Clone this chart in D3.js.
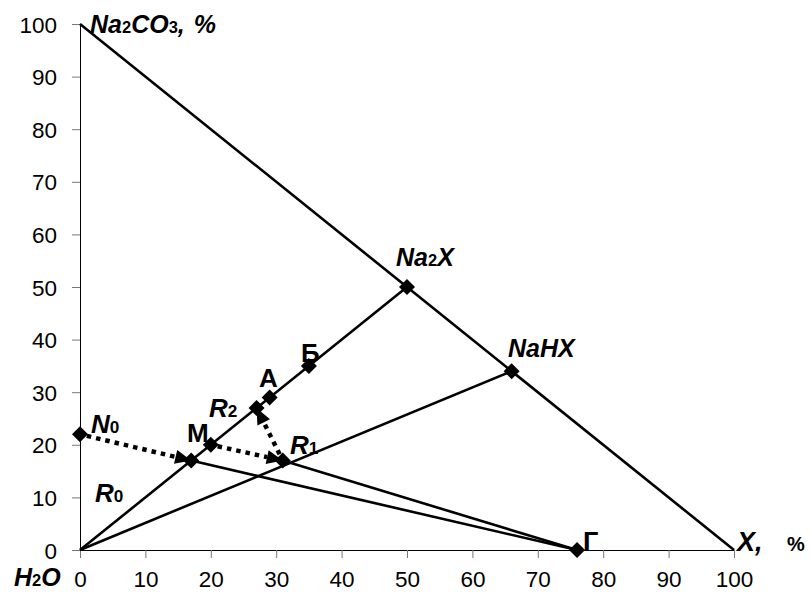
<!DOCTYPE html>
<html>
<head>
<meta charset="utf-8">
<script src="https://cdn.jsdelivr.net/npm/d3@7"></script>
<style>
  body { margin: 0; background: #fff; }
  svg text { font-family: "Liberation Sans", Arial, sans-serif; fill: #000; }
</style>
</head>
<body>
<div class="chart"></div>
<script>
// size of the picture
const width = 811;
const height = 592;

// points of the diagram (x = X %, y = Na2CO3 %)
const pointIds = ["O", "C", "E", "N0", "R0", "M", "R2", "A", "B", "R1", "Na2X", "NaHX", "G"];
const pointX   = [0,   0,   100, 0,    17,   20,  27,   29,  35,  31,   50,     66,     76];
const pointY   = [0,   100, 0,   22,   17,   20,  27,   29,  35,  17,   50,     34,     0];

// which points get a diamond
const markerIds = ["N0", "R0", "M", "R2", "A", "B", "R1", "Na2X", "NaHX", "G"];

// solid lines and dotted arrows, as pairs of point ids
const solidSegments = [["C", "E"], ["O", "Na2X"], ["O", "NaHX"], ["R0", "G"], ["R1", "G"]];
const arrowSegments = [["N0", "R0"], ["M", "R1"], ["R1", "R2"]];

// tick labels
const xTicks = [0, 10, 20, 30, 40, 50, 60, 70, 80, 90, 100];
const yTicks = [0, 10, 20, 30, 40, 50, 60, 70, 80, 90, 100];

var pts = {};
pointIds.forEach(function(id, i) { pts[id] = {x: pointX[i], y: pointY[i]}; });

var x = d3.scaleLinear().domain([0, 100]).range([80, 734]);
var y = d3.scaleLinear().domain([0, 100]).range([550, 24]);

var svg = d3.select(".chart")
  .append("svg")
    .attr("width", width)
    .attr("height", height);

// axes
var xAxis = svg.append("g")
  .attr("transform", "translate(0," + y(0) + ")")
  .call(d3.axisBottom(x).tickValues(xTicks).tickSize(8).tickSizeOuter(0).tickPadding(13));

var yAxis = svg.append("g")
  .attr("transform", "translate(" + x(0) + ",0)")
  .call(d3.axisLeft(y).tickValues(yTicks).tickSize(8).tickSizeOuter(0).tickPadding(15));

[xAxis, yAxis].forEach(function(a) {
  a.select(".domain").attr("stroke", "#000").attr("stroke-width", 1);
  a.selectAll(".tick line").attr("stroke", "#777").attr("stroke-width", 1);
  a.selectAll(".tick text")
    .style("font-size", "22.5px")
    .attr("fill", "#000");
});
yAxis.selectAll(".tick text").attr("dy", "0.36em");

// solid lines
svg.append("g")
  .selectAll("line")
  .data(solidSegments)
  .enter()
  .append("line")
    .attr("x1", function(d) { return x(pts[d[0]].x); })
    .attr("y1", function(d) { return y(pts[d[0]].y); })
    .attr("x2", function(d) { return x(pts[d[1]].x); })
    .attr("y2", function(d) { return y(pts[d[1]].y); })
    .attr("stroke", "#000")
    .attr("stroke-width", 2.6);

// dotted arrows: line stops at arrow base, head is a filled triangle
var headLen = 16, headHalf = 7;
var arrows = svg.append("g");
arrowSegments.forEach(function(d) {
  var x1 = x(pts[d[0]].x), y1 = y(pts[d[0]].y);
  var x2 = x(pts[d[1]].x), y2 = y(pts[d[1]].y);
  var dx = x2 - x1, dy = y2 - y1;
  var len = Math.sqrt(dx * dx + dy * dy);
  var ux = dx / len, uy = dy / len;
  var bx = x2 - ux * headLen, by = y2 - uy * headLen;
  arrows.append("line")
    .attr("x1", x1 + ux * 7).attr("y1", y1 + uy * 7)
    .attr("x2", bx).attr("y2", by)
    .attr("stroke", "#000")
    .attr("stroke-width", 4.5)
    .attr("stroke-dasharray", "4.5,5");
  arrows.append("path")
    .attr("d", "M" + x2 + "," + y2 +
               "L" + (bx - uy * headHalf) + "," + (by + ux * headHalf) +
               "L" + (bx + uy * headHalf) + "," + (by - ux * headHalf) + "Z")
    .attr("fill", "#000");
});

// diamonds
svg.append("g")
  .selectAll("path")
  .data(markerIds)
  .enter()
  .append("path")
    .attr("transform", function(d) { return "translate(" + x(pts[d].x) + "," + y(pts[d].y) + ")"; })
    .attr("d", "M0,-8L8,0L0,8L-8,0Z")
    .attr("fill", "#000");

// labels: main text, optional subscript, more text
function label(px, py, parts, size, italic) {
  var t = svg.append("text")
    .attr("x", px).attr("y", py)
    .style("font-size", size + "px")
    .style("font-weight", "bold")
    .style("font-style", italic ? "italic" : "normal");
  parts.forEach(function(p) {
    var s = t.append("tspan").text(p.t);
    if (p.sub) s.style("font-size", (size * 0.66) + "px").style("font-style", "normal");
    if (p.size) s.style("font-size", p.size + "px").style("font-style", "normal");
    if (p.dx) s.attr("dx", p.dx);
  });
  return t;
}

label(90, 33, [{t: "Na"}, {t: "2", sub: true}, {t: "CO"}, {t: "3", sub: true}, {t: ","}, {t: "%", dx: 9}], 25, true);
label(396, 266, [{t: "Na"}, {t: "2", sub: true}, {t: "X"}], 25, true);
label(508, 357, [{t: "NaHX"}], 25, true);
label(301, 362, [{t: "Б"}], 26, false);
label(259, 387, [{t: "А"}], 26, false);
label(209, 417, [{t: "R"}, {t: "2", sub: true}], 26, true);
label(187, 442, [{t: "М"}], 26, false);
label(290, 454, [{t: "R"}, {t: "1", sub: true}], 26, true);
label(91, 433, [{t: "N"}, {t: "0", sub: true}], 26, true);
label(95, 502, [{t: "R"}, {t: "0", sub: true}], 26, true);
label(583, 551, [{t: "Г"}], 27, false);
label(737, 551, [{t: "X,"}], 27, true);
label(787, 551, [{t: "%"}], 20, false);
label(14, 586, [{t: "H"}, {t: "2", sub: true}, {t: "O"}], 25, true);
</script>
</body>
</html>
